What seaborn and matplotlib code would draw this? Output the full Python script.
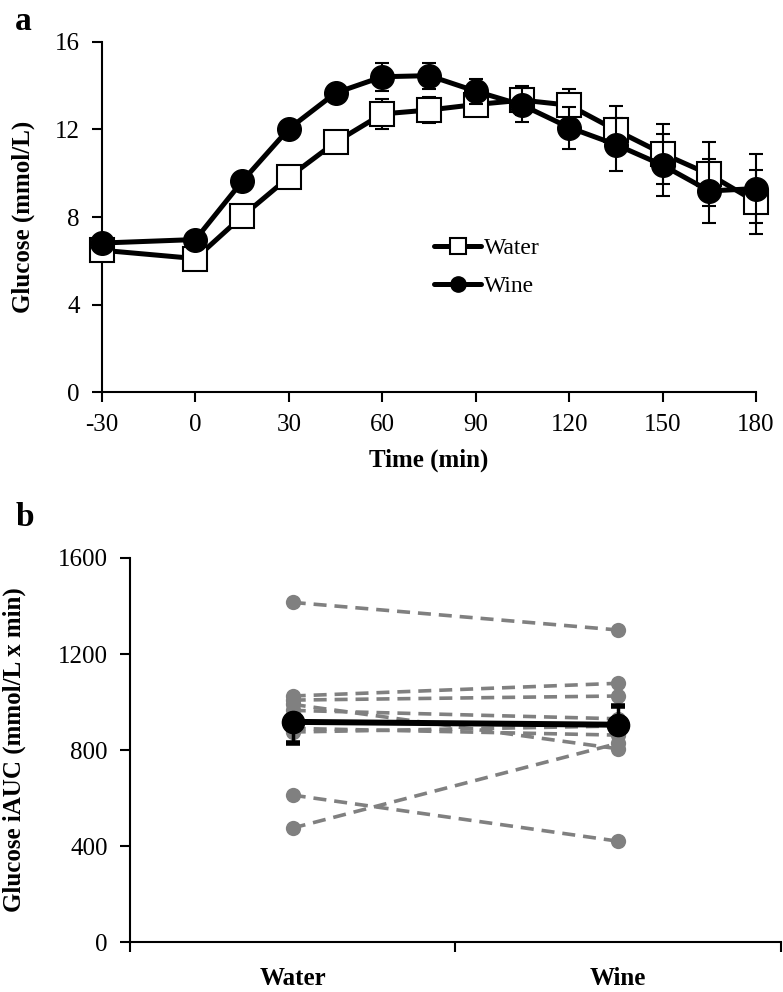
import numpy as np
import pandas as pd
import matplotlib
matplotlib.use("Agg")
import matplotlib.pyplot as plt
import seaborn as sns
from matplotlib.lines import Line2D

# ---------------- data ----------------
time_min = [-30, 0, 15, 30, 45, 60, 75, 90, 105, 120, 135, 150, 165, 180]
water_glucose = [6.48, 6.10, 8.03, 9.82, 11.42, 12.71, 12.89, 13.14, 13.34, 13.11, 11.97, 10.90, 9.95, 8.69]
water_sem = [0.10, 0.12, 0.20, 0.25, 0.30, 0.67, 0.60, 0.32, 0.66, 0.76, 1.10, 1.37, 1.46, 1.48]
wine_glucose = [6.81, 6.97, 9.63, 12.03, 13.67, 14.41, 14.46, 13.75, 13.11, 12.09, 11.31, 10.37, 9.19, 9.30]
wine_sem = [0.10, 0.12, 0.20, 0.25, 0.30, 0.65, 0.60, 0.58, 0.79, 0.96, 1.22, 1.43, 1.48, 1.57]

drinks = ["Water", "Wine"]
subjects = [1, 2, 3, 4, 5, 6, 7, 8, 9]
water_iauc = [1415, 1025, 1008, 990, 965, 890, 875, 612, 475]
wine_iauc = [1300, 1078, 1025, 805, 930, 862, 900, 420, 828]

time_ticks = [-30, 0, 30, 60, 90, 120, 150, 180]
glucose_ticks = [0, 4, 8, 12, 16]
iauc_ticks = [0, 400, 800, 1200, 1600]

# ---------------- style ----------------
sns.set_style("ticks")
plt.rcParams["font.family"] = ["Liberation Serif", "DejaVu Serif"]
plt.rcParams["axes.linewidth"] = 1.5
plt.rcParams["axes.unicode_minus"] = False
for k in ["text.color", "axes.labelcolor", "xtick.color", "ytick.color", "axes.edgecolor"]:
    plt.rcParams[k] = "black"

fig = plt.figure(figsize=(7.83, 9.92), dpi=100)
ax1 = fig.add_axes([0.1303, 0.6048, 0.8352, 0.3529])
ax2 = fig.add_axes([0.166, 0.0504, 0.8314, 0.3871])

# ---------------- panel a ----------------
df_water = pd.DataFrame({"Time": time_min, "Glucose": water_glucose})
df_wine = pd.DataFrame({"Time": time_min, "Glucose": wine_glucose})

ax1.errorbar(time_min, water_glucose, yerr=water_sem, fmt="none", ecolor="black",
             elinewidth=1.5, capsize=5, capthick=1.5, zorder=2, clip_on=False)
sns.lineplot(data=df_water, x="Time", y="Glucose", estimator=None, color="black",
             lw=3.6, marker="s", markersize=17, markerfacecolor="white",
             markeredgecolor="black", markeredgewidth=1.5, zorder=3, ax=ax1,
             clip_on=False)
ax1.errorbar(time_min, wine_glucose, yerr=wine_sem, fmt="none", ecolor="black",
             elinewidth=1.5, capsize=5, capthick=1.5, zorder=4, clip_on=False)
sns.lineplot(data=df_wine, x="Time", y="Glucose", estimator=None, color="black",
             lw=3.6, marker="o", markersize=17, markerfacecolor="black",
             markeredgecolor="black", markeredgewidth=1.0, zorder=5, ax=ax1,
             clip_on=False)

ax1.set_xlim(-30, 180)
ax1.set_ylim(0, 16)
ax1.set_xticks(time_ticks)
ax1.set_yticks(glucose_ticks)
ax1.tick_params(axis="x", direction="out", length=7, width=1.5, labelsize=18, pad=9)
ax1.tick_params(axis="y", direction="out", length=7, width=1.5, labelsize=18, pad=9)
sns.despine(ax=ax1)
ax1.set_xlabel("Time (min)", fontsize=18, fontweight="bold", labelpad=9)
ax1.set_ylabel("Glucose (mmol/L)", fontsize=18, fontweight="bold")
ax1.yaxis.set_label_coords(-0.103, 0.5)

h_water = Line2D([], [], color="black", lw=3.6, marker="s", ms=11, mfc="white",
                 mec="black", mew=1.5)
h_wine = Line2D([], [], color="black", lw=3.6, marker="o", ms=11)
ax1.legend([h_water, h_wine], drinks, loc="center left",
           bbox_to_anchor=(0.475, 0.357), frameon=False, fontsize=17,
           handlelength=2.0, handletextpad=0.1, labelspacing=0.7)

# ---------------- panel b ----------------
df_b = pd.DataFrame({
    "Subject": subjects + subjects,
    "Drink": [drinks[0]] * len(subjects) + [drinks[1]] * len(subjects),
    "iAUC": water_iauc + wine_iauc,
})

n0 = len(ax2.lines)
sns.lineplot(data=df_b, x="Drink", y="iAUC", units="Subject", estimator=None,
             color="#808080", lw=2.6, marker="o", markersize=11,
             markeredgecolor="#808080", markeredgewidth=0, zorder=2, ax=ax2,
             legend=False)
for ln in ax2.lines[n0:]:
    ln.set_linestyle((0, (3.6, 2.2)))

# mean +/- SEM computed from the individual values
stats = df_b.groupby("Drink", sort=False)["iAUC"].agg(["mean", "sem"]).reindex(drinks)
# reference shows only the lower whisker for Water and the upper for Wine
lower = [stats.loc[drinks[0], "sem"], 0]
upper = [0, stats.loc[drinks[1], "sem"]]
ax2.errorbar(drinks, stats["mean"].tolist(), yerr=[lower, upper], fmt="none",
             ecolor="black", elinewidth=2.5, capsize=5, capthick=4, zorder=2.5)
sns.lineplot(x=drinks, y=stats["mean"].tolist(), color="black", lw=4.3,
             marker="o", markersize=16, markeredgecolor="black",
             markeredgewidth=1, zorder=3, ax=ax2, legend=False)

ax2.set_xlim(-0.5, 1.5)
ax2.set_ylim(0, 1600)
ax2.set_yticks(iauc_ticks)
ax2.set_xticks([0, 1])
ax2.set_xticklabels(drinks, fontsize=18, fontweight="bold")
ax2.set_xticks([-0.5, 0.5, 1.5], minor=True)
ax2.tick_params(axis="x", which="major", length=0, pad=18)
ax2.tick_params(axis="x", which="minor", direction="out", length=7, width=1.5)
ax2.tick_params(axis="y", direction="out", length=7, width=1.5, labelsize=18, pad=9)
sns.despine(ax=ax2)
ax2.set_xlabel("")
ax2.set_ylabel("Glucose iAUC (mmol/L x min)", fontsize=18, fontweight="bold")
ax2.yaxis.set_label_coords(-0.16, 0.5)

# ---------------- panel letters ----------------
fig.text(23 / 783, 1 - 22 / 992, "a", fontsize=24, fontweight="bold", ha="center", va="center")
fig.text(25 / 783, 1 - 517 / 992, "b", fontsize=24, fontweight="bold", ha="center", va="center")

fig.savefig("out.png", dpi=100)
